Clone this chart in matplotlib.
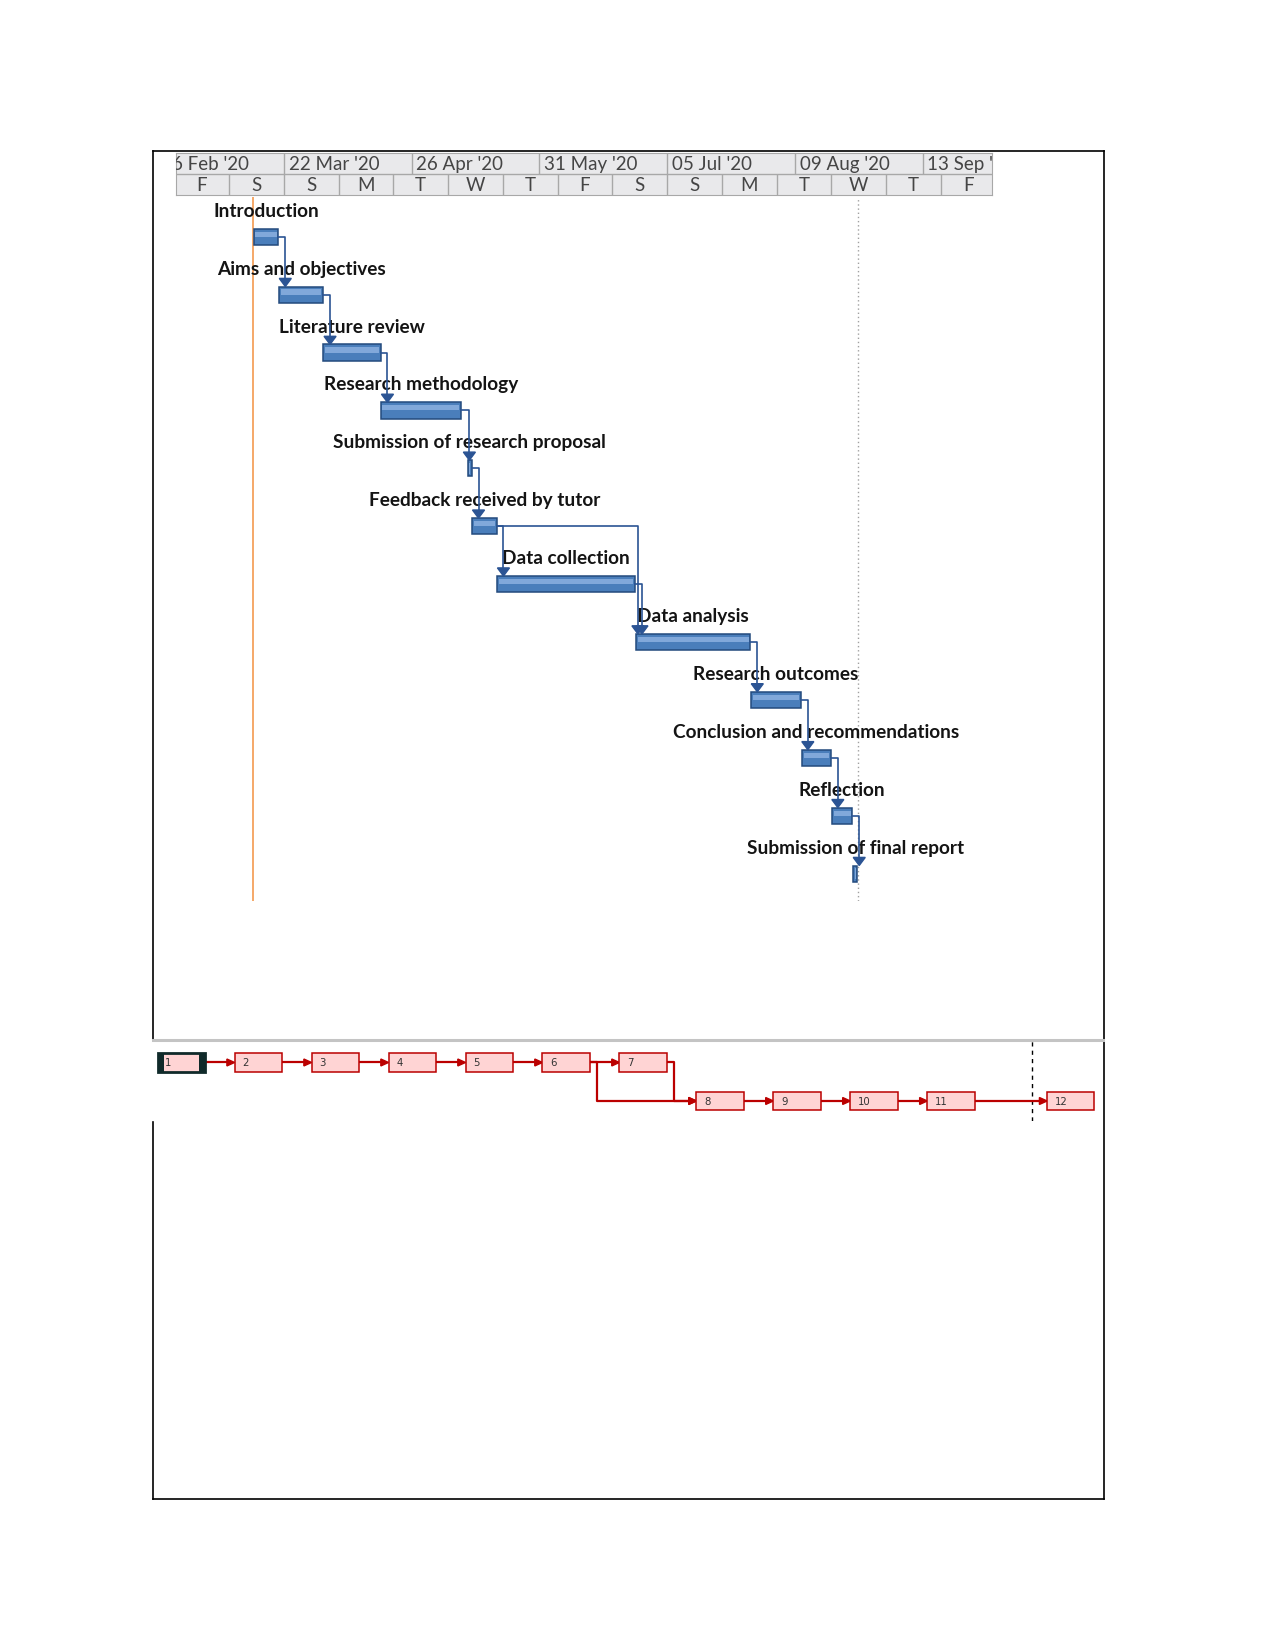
import matplotlib
matplotlib.use("Agg")
import matplotlib.pyplot as plt
import matplotlib.dates as mdates
from matplotlib.patches import Rectangle, Polygon
import pandas as pd

# ---- schedule ----
tasks = [
    "Introduction",
    "Aims and objectives",
    "Literature review",
    "Research methodology",
    "Submission of research proposal",
    "Feedback received by tutor",
    "Data collection",
    "Data analysis",
    "Research outcomes",
    "Conclusion and recommendations",
    "Reflection",
    "Submission of final report",
]
starts = [
    "2020-03-13 17:00", "2020-03-20 16:00", "2020-04-01 19:00", "2020-04-17 12:00",
    "2020-05-11 08:00", "2020-05-12 16:00", "2020-05-19 12:00", "2020-06-26 12:00",
    "2020-07-28 01:00", "2020-08-10 23:00", "2020-08-19 03:00", "2020-08-25 00:00",
]
durations = [6.8, 12.1, 15.7, 22.0, 1.1, 6.6, 37.7, 31.3, 13.6, 7.9, 5.6, 1.1]

# finish-to-start links (predecessor, successor), 0-based
links = [(0, 1), (1, 2), (2, 3), (3, 4), (4, 5), (5, 6), (5, 7), (6, 7),
         (7, 8), (8, 9), (9, 10), (10, 11)]

# timescale tiers
major_dates = ["2020-02-16", "2020-03-22", "2020-04-26", "2020-05-31",
               "2020-07-05", "2020-08-09", "2020-09-13"]
major_labels = ["16 Feb '20", "22 Mar '20", "26 Apr '20", "31 May '20",
                "05 Jul '20", "09 Aug '20", "13 Sep '20"]
minor_labels = ["F", "S", "S", "M", "T", "W", "T", "F", "S", "S", "M", "T", "W", "T", "F"]
minor_dates = pd.date_range("2020-02-21", periods=len(minor_labels) + 1, freq="15D")

view_start = "2020-02-21 11:10"
view_end = "2020-10-01 21:50"

# network diagram layout (row of each box, column order)
net_rows = [0, 0, 0, 0, 0, 0, 0, 1, 1, 1, 1, 1]
net_cols = list(range(len(tasks)))
page_break = 11.356

# ---- styling ----
W, H = 1275, 1651
BAR_BLUE = "#4a7ebb"
BAR_EDGE = "#234a7d"
BAR_HI = "#8fb3e3"
LINK_BLUE = "#2b5494"
NET_RED = "#bb0000"

fig = plt.figure(figsize=(W / 100, H / 100), dpi=100)


def add_px_axes(left, top, right, bottom, **kw):
    return fig.add_axes([left / W, 1 - bottom / H, (right - left) / W, (bottom - top) / H], **kw)


# ---- outer frame ----
frame = add_px_axes(0, 0, W, H, zorder=0)
frame.set_xlim(0, W)
frame.set_ylim(H, 0)
frame.axis("off")
fk = dict(color="black", lw=1.2, solid_capstyle="projecting")
frame.plot([152.7, 1104.3], [150.7, 150.7], **fk)
frame.plot([1104.3, 1104.3], [150.7, 1499.3], **fk)
frame.plot([152.7, 1104.3], [1499.3, 1499.3], **fk)
frame.plot([152.7, 152.7], [150.7, 1039], **fk)
frame.plot([152.7, 152.7], [1121.7, 1499.3], **fk)
frame.plot([152.7, 1103], [1040, 1040], color="#c4c4c4", lw=2.2)

x_lo = mdates.date2num(pd.Timestamp(view_start))
x_hi = mdates.date2num(pd.Timestamp(view_end))

# ---- timescale header ----
hd = add_px_axes(176, 153.3, 991.7, 195.5, zorder=2)
hd.set_xlim(x_lo, x_hi)
hd.set_ylim(0, 2)
hd.set_facecolor("#e9e9eb")
hd.set_xticks([])
hd.set_yticks([])
for sp in hd.spines.values():
    sp.set_color("#a8a8a8")
hd.axhline(1, color="#a8a8a8", lw=1)
hfont = dict(family="Lato", fontsize=13.5, color="#454545")
for d, lab in zip(major_dates, major_labels):
    dn = mdates.date2num(pd.Timestamp(d))
    hd.vlines(dn, 1, 2, color="#a8a8a8", lw=1)
    hd.text(dn + 1.3, 1.47, lab, ha="left", va="center", clip_on=True, **hfont)
for i, lab in enumerate(minor_labels):
    dn = mdates.date2num(minor_dates[i])
    hd.vlines(dn, 0, 1, color="#a8a8a8", lw=1)
    hd.text(dn + 7.5, 0.47, lab, ha="center", va="center", clip_on=True, **hfont)

# ---- gantt body ----
ax = add_px_axes(176, 197, 991.7, 901, zorder=1)
ax.set_xlim(x_lo, x_hi)
ax.set_ylim(11.473, -0.686)
ax.axis("off")

rows = list(range(len(tasks)))
s_num = [mdates.date2num(pd.Timestamp(s)) for s in starts]
e_num = [s + d for s, d in zip(s_num, durations)]
BAR_H = 0.28

ax.axvline(s_num[0] - 0.2, color="#f4a15d", lw=1.3, zorder=1)
ax.axvline(e_num[-1] + 0.3, color="#a0a0a0", lw=1.0, ls=(0, (1, 2)), zorder=1)

ax.barh(rows, durations, left=s_num, height=BAR_H, color=BAR_BLUE,
        edgecolor=BAR_EDGE, linewidth=1.1, zorder=3)
for r, s, d in zip(rows, s_num, durations):
    if d > 2:
        ax.barh(r - 0.045, d - 0.9, left=s + 0.45, height=0.09,
                color=BAR_HI, alpha=0.8, linewidth=0, zorder=3.1)
    else:
        ax.barh(r, d * 0.4, left=s + d * 0.3, height=BAR_H * 0.7,
                color=BAR_HI, alpha=0.8, linewidth=0, zorder=3.1)

for r, s, e, name in zip(rows, s_num, e_num, tasks):
    ax.text((s + e) / 2, r - 0.345, name, ha="center", va="baseline",
            family="Lato", fontweight="bold", fontsize=13.7, color="#141414", zorder=2)

ARW = 1.65   # arrow half-width, days
ARH = 0.14   # arrow height, rows
for p, q in links:
    xt = max(e_num[p] + 1.9, s_num[q] + 0.5)
    y_tip = q - BAR_H / 2
    ax.plot([e_num[p], xt, xt], [p, p, y_tip - ARH], color=LINK_BLUE, lw=1.2, zorder=4)
    ax.add_patch(Polygon([(xt - ARW, y_tip - ARH), (xt + ARW, y_tip - ARH), (xt, y_tip)],
                         closed=True, color=LINK_BLUE, zorder=4))

# ---- network diagram ----
net = add_px_axes(153, 1041, 1104, 1121, zorder=1)
net.set_xlim(-0.06, 12.295)
net.set_ylim(0.76, -0.279)
net.axis("off")

BOX_W, BOX_H = 0.614, 0.24
box_x = []
for c in net_cols:
    if c < page_break < c + BOX_W:
        c = page_break + 0.2
    box_x.append(c)
box_y = [r * 0.5 for r in net_rows]

net.axvline(page_break, color="black", lw=1, ls=(0, (3, 3)), zorder=1)

for i, (bx, by) in enumerate(zip(box_x, box_y)):
    if i == 0:
        net.add_patch(Rectangle((bx, by - BOX_H / 2), BOX_W, BOX_H, facecolor="#ffd4d4",
                                edgecolor="#102a2a", lw=2, zorder=3))
        for sx in (bx, bx + BOX_W - 0.08):
            net.add_patch(Rectangle((sx, by - BOX_H / 2), 0.08, BOX_H,
                                    facecolor="#102a2a", lw=0, zorder=3.2))
    else:
        net.add_patch(Rectangle((bx, by - BOX_H / 2), BOX_W, BOX_H, facecolor="#ffd4d4",
                                edgecolor=NET_RED, lw=1.1, zorder=3))
    net.text(bx + 0.1, by + 0.01, str(i + 1), ha="left", va="center",
             family="DejaVu Sans", fontsize=7.3, color="#333333", zorder=4)

AL, AH = 0.1, 0.045
for p, q in links:
    x0, y0 = box_x[p] + BOX_W, box_y[p]
    x1, y1 = box_x[q], box_y[q]
    if y0 == y1:
        xs, ys = [x0, x1 - AL], [y0, y1]
    else:
        xt = x0 + 0.1
        xs, ys = [x0, xt, xt, x1 - AL], [y0, y0, y1, y1]
    net.plot(xs, ys, color=NET_RED, lw=1.6, zorder=2)
    net.add_patch(Polygon([(x1 - AL, y1 - AH), (x1 - AL, y1 + AH), (x1, y1)],
                          closed=True, color=NET_RED, zorder=2))

fig.savefig("out.png", dpi=100)
